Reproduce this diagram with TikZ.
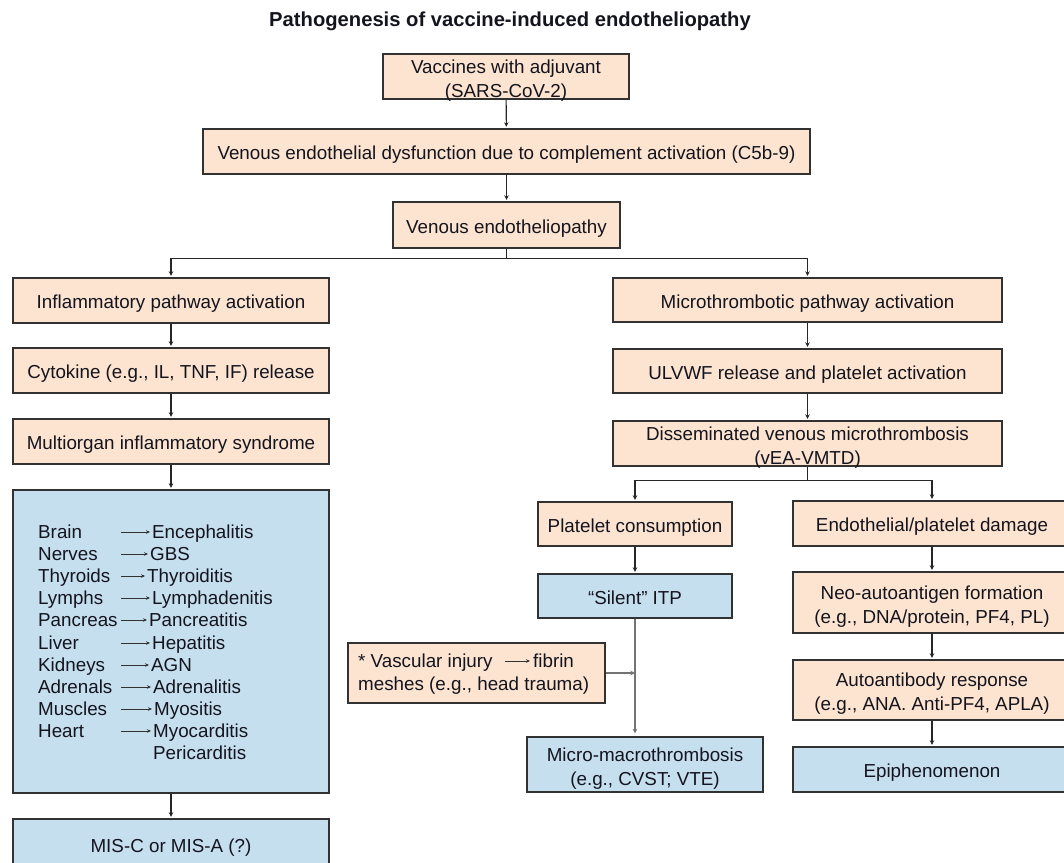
\documentclass[tikz,border=0pt]{standalone}
\usepackage{fontspec}
\setmainfont{Liberation Sans}
\usetikzlibrary{arrows.meta,calc}
\definecolor{peach}{RGB}{252,228,208}
\definecolor{lblue}{RGB}{198,223,239}
\definecolor{bord}{RGB}{50,50,50}
\definecolor{txt}{RGB}{20,20,30}
\newcommand{\bxstrutA}{\rule[-3.5pt]{0pt}{24pt}}
\newcommand{\bxstrutB}{\rule[-3.5pt]{0pt}{0pt}}
\begin{document}
\begin{tikzpicture}[x=1pt,y=-1pt,
  every node/.style={font=\fontsize{18.8}{24}\selectfont, text=txt},
  boxbase/.style={draw=bord, line width=1.4pt, inner sep=0pt, align=center,
    execute at begin node=\bxstrutA, execute at end node=\bxstrutB},
  obox/.style={boxbase, fill=peach},
  bbox/.style={boxbase, fill=lblue},
  mlab/.style={align=center, inner sep=0pt, yshift=-4pt},
  arr/.style={draw=black!85, line width=1.1pt, shorten >=1.5pt, -{Stealth[length=4.5pt,width=4.5pt]}},
  garr/.style={draw=black!55, line width=1.1pt, -{Stealth[length=4.5pt,width=4.5pt]}},
  sarr/.style={draw=bord, line width=0.8pt, -{Stealth[length=4pt,width=3.5pt]}},
  ln/.style={draw=black!85, line width=1.1pt},
  org/.style={anchor=base west, inner sep=0pt}
]
\useasboundingbox (0,0) rectangle (1064,862);
\begin{scope}
\clip (0,0) rectangle (1064,862);

\node[font=\fontsize{20.2}{24}\bfseries\selectfont] (title) at (510,21) {Pathogenesis of vaccine-induced endotheliopathy};

\node[obox, minimum width=246, minimum height=45, label={[mlab]center:{Vaccines with adjuvant\\(SARS-CoV-2)}}] (v1) at (506,76.5) {};
\node[obox, minimum width=607, minimum height=45] (v2) at (506.5,151.5) {Venous endothelial dysfunction due to complement activation (C5b-9)};
\node[obox, minimum width=227, minimum height=46] (v3) at (506.5,225) {Venous endotheliopathy};

\node[obox, minimum width=316, minimum height=45] (L1) at (171,300.5) {Inflammatory pathway activation};
\node[obox, minimum width=316, minimum height=45] (L2) at (171,370.5) {Cytokine (e.g., IL, TNF, IF) release};
\node[obox, minimum width=316, minimum height=45] (L3) at (171,441.5) {Multiorgan inflammatory syndrome};
\node[bbox, minimum width=316, minimum height=303] (L4) at (171,641.5) {};
\node[bbox, minimum width=316, minimum height=61] (L5) at (171,849.5) {};
\node[org] (mis) at (171,852) [anchor=base] {MIS-C or MIS-A (?)};

\node[obox, minimum width=389, minimum height=44] (R1) at (807.5,300) {Microthrombotic pathway activation};
\node[obox, minimum width=389, minimum height=44] (R2) at (807.5,371) {ULVWF release and platelet activation};
\node[obox, minimum width=389, minimum height=45, label={[mlab]center:{Disseminated venous microthrombosis\\(vEA-VMTD)}}] (R3) at (807.5,443.5) {};

\node[obox, minimum width=194, minimum height=44] (P1) at (635,524) {Platelet consumption};
\node[bbox, minimum width=194, minimum height=44] (P2) at (635,596) {“Silent” ITP};
\node[obox, minimum width=257, minimum height=60] (VI) at (476.5,673) {};
\node[org] (vi1) at (358,667) {* Vascular injury};
\node[org] (vi2) at (533,667) {fibrin};
\node[org] (vi3) at (358,690) {meshes (e.g., head trauma)};
\node[bbox, minimum width=236, minimum height=55, label={[mlab]center:{Micro-macrothrombosis\\(e.g., CVST; VTE)}}] (MM) at (645,764.5) {};

\node[obox, minimum width=278, minimum height=45] (E1) at (932,523.5) {Endothelial/platelet damage};
\node[obox, minimum width=278, minimum height=61, label={[mlab]center:{Neo-autoantigen formation\\(e.g., DNA/protein, PF4, PL)}}] (E2) at (932,602.5) {};
\node[obox, minimum width=278, minimum height=60, label={[mlab]center:{Autoantibody response\\(e.g., ANA. Anti-PF4, APLA)}}] (E3) at (932,690) {};
\node[bbox, minimum width=278, minimum height=45] (E4) at (932,769.5) {Epiphenomenon};

% organ list
\foreach \i/\o/\d/\y/\dx in {1/Brain/Encephalitis/532/152, 2/Nerves/GBS/554/150, 3/Thyroids/Thyroiditis/576/147, 4/Lymphs/Lymphadenitis/598/152, 5/Pancreas/Pancreatitis/620/149, 6/Liver/Hepatitis/643/152, 7/Kidneys/AGN/665/151, 8/Adrenals/Adrenalitis/687/153, 9/Muscles/Myositis/709/154, 10/Heart/Myocarditis/731/153}{
  \node[org] (o\i) at (38,\y+6.5) {\o};
  \node[org] (d\i) at (\dx,\y+6.5) {\d};
  \coordinate (a\i) at (121,\y);
  \coordinate (b\i) at (\dx-2,\y);
  \draw[sarr] (a\i) -- (b\i);
}
\node[org] (d11) at (153,753+6.5) {Pericarditis};

% connectors
\draw[arr] (v1) -- (v2);
\draw[arr] (v2) -- (v3);
\coordinate (br1) at ($(v3.south)+(0,10)$);
\draw[ln] (v3.south) -- (br1);
\draw[arr] (br1) -| (L1.north);
\draw[arr] (br1) -| (R1.north);
\draw[arr] (L1) -- (L2);
\draw[arr] (L2) -- (L3);
\draw[arr] (L3) -- (L4);
\draw[arr] (L4) -- (L5);
\draw[arr] (R1) -- (R2);
\draw[arr] (R2) -- (R3);
\coordinate (br2) at ($(R3.south)+(0,14)$);
\draw[ln] (R3.south) -- (br2);
\draw[arr] (br2) -| (P1.north);
\draw[arr] (br2) -| (E1.north);
\draw[arr] (P1) -- (P2);
\draw[garr, shorten >=3pt] (P2.south) -- (P2.south |- MM.north);
\draw[garr] (VI.east) -- (P2.south |- VI.east);
\draw[arr] (E1) -- (E2);
\draw[arr] (E2) -- (E3);
\draw[arr] (E3) -- (E4);
% arrow inside vascular injury text
\coordinate (via) at ($(vi1.base east)+(12,-6)$);
\draw[sarr] (via) -- ($(vi2.base west)+(-3,-6)$);
\end{scope}
\end{tikzpicture}
\end{document}
